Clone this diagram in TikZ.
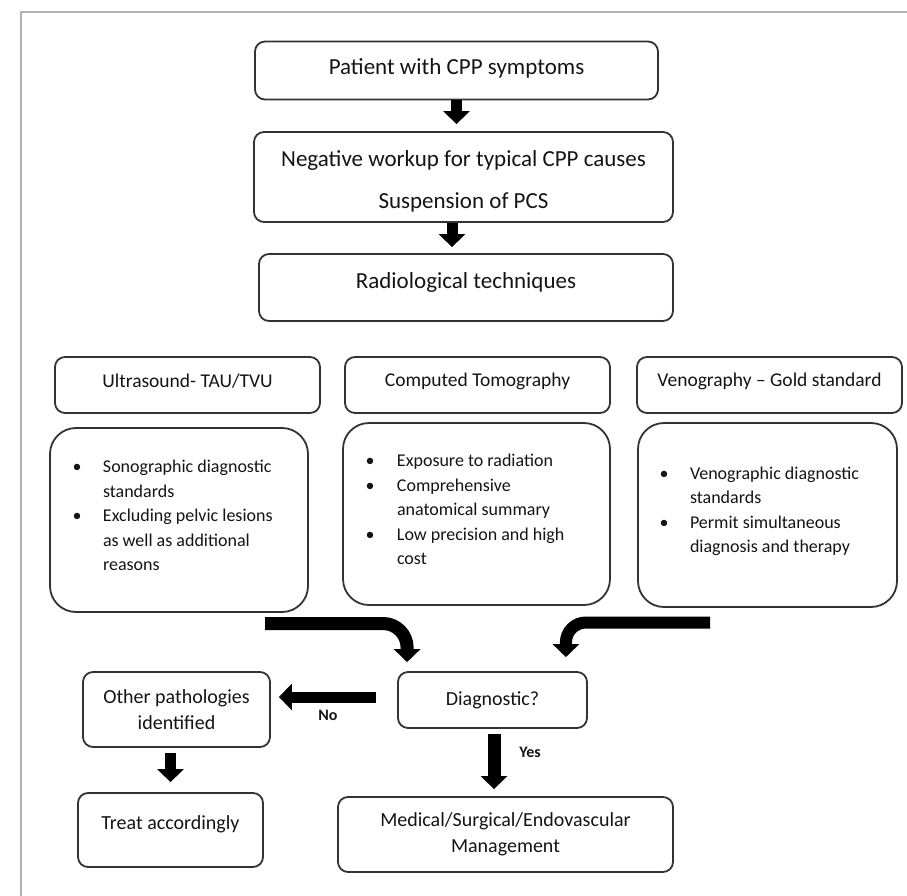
\documentclass[tikz,border=0pt]{standalone}
\usepackage{fontspec}
\setmainfont{Carlito}
\usetikzlibrary{arrows.meta}
\newcommand\liftt[2]{\raisebox{#1}[\height][\depth]{#2}}
\begin{document}
\begin{tikzpicture}[x=1pt,y=-1pt,
 box/.style={draw=black!80, line width=1.8pt, rounded corners=10pt, text=black!92, inner sep=0pt, align=center},
 big/.style={box, font=\fontsize{23}{28}\selectfont},
 hdr/.style={box, font=\fontsize{19.5}{24}\selectfont, minimum width=265pt, minimum height=56pt},
 lst/.style={box, rounded corners=26pt, font=\fontsize{18}{24.5}\selectfont},
 sml/.style={box, font=\fontsize{20}{26.5}\selectfont},
 blk/.style={line width=11pt, black, -{Triangle[width=26pt,length=13pt]}},
 lab/.style={text=black!92, font=\bfseries\fontsize{16}{20}\selectfont}
]
\useasboundingbox (0,0) rectangle (907,896);
\draw[gray!60, line width=1.3pt] (21,896) -- (21,12) -- (907,12);

% top chain
\node[big, minimum width=403pt, minimum height=58pt] (p1) at (456.5,70.5) {\liftt{2pt}{Patient with CPP symptoms}};
\node[big, minimum width=419pt, minimum height=90pt] (p2) at (463.5,177) {\liftt{-5pt}{\begin{tabular}{@{}c@{}}Negative workup for typical CPP causes\\[14pt]Suspension of PCS\end{tabular}}};
\node[big, minimum width=414pt, minimum height=67pt] (p3) at (466,287.5) {\liftt{5pt}{Radiological techniques}};

% headers
\node[hdr] (h1) at (187.5,385) {\liftt{4pt}{Ultrasound- TAU/TVU}};
\node[hdr] (h2) at (477.5,385) {\liftt{4pt}{Computed Tomography}};
\node[hdr] (h3) at (769.5,385) {\liftt{4pt}{Venography – Gold standard}};

% bullet boxes
\node[lst, minimum width=258pt, minimum height=184pt] (b1) at (179,520) {\liftt{3pt}{\begin{tabular}{@{}p{30.5pt}@{}p{182.5pt}@{}}
\textbullet & Sonographic diagnostic\\
 & standards\\
\textbullet & Excluding pelvic lesions\\
 & as well as additional\\
 & reasons
\end{tabular}}};
\node[lst, minimum width=267pt, minimum height=182pt] (b2) at (476.5,514) {\liftt{3pt}{\begin{tabular}{@{}p{31.5pt}@{}p{190.5pt}@{}}
\textbullet & Exposure to radiation\\
\textbullet & Comprehensive\\
 & anatomical summary\\
\textbullet & Low precision and high\\
 & cost
\end{tabular}}};
\node[lst, minimum width=259pt, minimum height=184pt] (b3) at (767.5,515) {\liftt{4pt}{\begin{tabular}{@{}p{30.5pt}@{}p{185.5pt}@{}}
\textbullet & Venographic diagnostic\\
 & standards\\
\textbullet & Permit simultaneous\\
 & diagnosis and therapy
\end{tabular}}};

% decision row
\node[sml, minimum width=189pt, minimum height=56pt] (diag) at (492.5,700) {Diagnostic?};
\node[sml, minimum width=187pt, minimum height=75pt] (other) at (176.5,709.5) {Other pathologies\\identified};
\node[sml, minimum width=185pt, minimum height=74pt] (treat) at (170.5,830) {\liftt{6pt}{Treat accordingly}};
\node[sml, minimum width=335pt, minimum height=75pt] (mgmt) at (505.5,834.5) {Medical/Surgical/Endovascular\\Management};

% arrows
\draw[blk, shorten >=7pt] (p1.south) -- (p1.south |- p2.north);
\draw[blk, shorten >=6pt] ([xshift=-11.5pt]p2.south) -- ([xshift=-11.5pt]p2.south |- p3.north);

\coordinate (L1) at (265,623.5);
\coordinate (R1) at (710,622.5);
\draw[blk, line width=13pt, rounded corners=24pt] (L1) -| ([shift={(10pt,9pt)}]diag.north west);
\draw[blk, line width=12pt, rounded corners=20pt] (R1) -| ([shift={(-22pt,14pt)}]diag.north east);

\draw[blk, shorten <=21pt, shorten >=8pt] ([yshift=3pt]diag.west) -- ([yshift=3pt]diag.west -| other.east);
\node[lab] (nol) at (328,715) {No};
\draw[blk, line width=13pt, shorten <=5pt, shorten >=7pt] ([xshift=1.5pt]diag.south) -- ([xshift=1.5pt]diag.south |- mgmt.north);
\node[lab] (yesl) at (530,752) {Yes};
\draw[blk, shorten <=5pt, shorten >=10pt] (treat.north |- other.south) -- (treat.north);
\end{tikzpicture}
\end{document}
